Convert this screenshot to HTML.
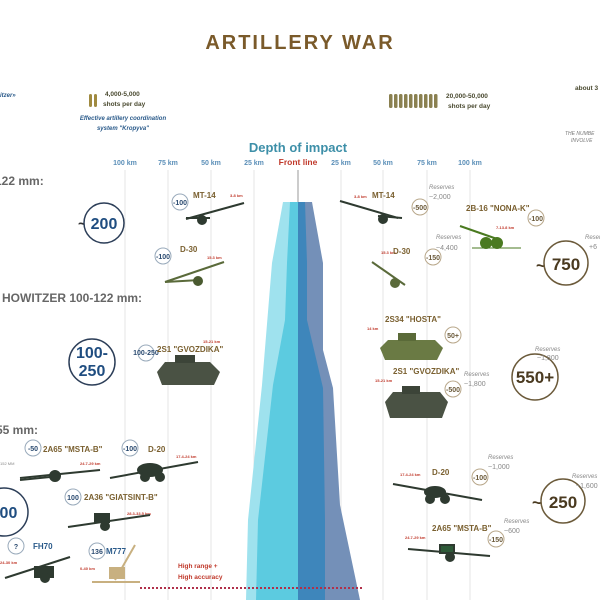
<!DOCTYPE html>
<html><head><meta charset="utf-8"><style>
body{margin:0;background:#fff;}
svg{display:block;font-family:"Liberation Sans",sans-serif;}
.km{font-size:7px;fill:#5b8fb8;font-weight:bold;}
.lbl{font-size:8px;fill:#7a6030;font-weight:bold;}
.rng{font-size:4px;fill:#c0392b;font-weight:bold;}
.res{font-size:6px;fill:#888;font-style:italic;}
.resv{font-size:7px;fill:#888;}
.sc{fill:#fff;stroke:#9ab;stroke-width:1;}
.sct{font-size:7px;fill:#2a4a70;font-weight:bold;text-anchor:middle;}
.bc{fill:#fff;stroke:#2c3e58;stroke-width:1.5;}
.bct{font-size:16px;fill:#1f4d80;font-weight:bold;text-anchor:middle;}
.rc{fill:#fff;stroke:#6b5a3a;stroke-width:1.5;}
.rct{font-size:17px;fill:#4a3a20;font-weight:bold;text-anchor:middle;}
.rsc{fill:#fff;stroke:#b8a78a;stroke-width:1;}
.rsct{font-size:7px;fill:#6b5a3a;font-weight:bold;text-anchor:middle;}
.hd{font-size:12px;fill:#666;font-weight:bold;}
.gun{stroke:#2e3a30;fill:#2e3a30;}
</style></head><body>
<svg width="600" height="600" viewBox="0 0 600 600">
<text x="300" y="49" text-anchor="middle" font-size="20" font-weight="bold" fill="#7a5a2a" letter-spacing="2">ARTILLERY WAR</text>
<text x="0" y="97" font-size="6" fill="#2a5a8a" font-weight="bold" font-style="italic">itzer»</text>
<g fill="#a08a40"><rect x="89" y="94" width="3" height="13" rx="1.5"/><rect x="94" y="94" width="3" height="13" rx="1.5"/></g>
<text x="105" y="96" font-size="6.5" fill="#4a4a30" font-weight="bold">4,000-5,000</text>
<text x="103" y="106" font-size="6.5" fill="#4a4a30" font-weight="bold">shots per day</text>
<text x="123" y="120" font-size="6" fill="#2a5a8a" font-weight="bold" font-style="italic" text-anchor="middle">Effective artillery coordination</text>
<text x="123" y="130" font-size="6" fill="#2a5a8a" font-weight="bold" font-style="italic" text-anchor="middle">system "Kropyva"</text>
<g fill="#8a8050">
<rect x="389" y="94" width="3.5" height="14" rx="1.5"/><rect x="394" y="94" width="3.5" height="14" rx="1.5"/><rect x="399" y="94" width="3.5" height="14" rx="1.5"/><rect x="404" y="94" width="3.5" height="14" rx="1.5"/><rect x="409" y="94" width="3.5" height="14" rx="1.5"/><rect x="414" y="94" width="3.5" height="14" rx="1.5"/><rect x="419" y="94" width="3.5" height="14" rx="1.5"/><rect x="424" y="94" width="3.5" height="14" rx="1.5"/><rect x="429" y="94" width="3.5" height="14" rx="1.5"/><rect x="434" y="94" width="3.5" height="14" rx="1.5"/></g>
<text x="446" y="98" font-size="6.5" fill="#4a4a30" font-weight="bold">20,000-50,000</text>
<text x="448" y="108" font-size="6.5" fill="#4a4a30" font-weight="bold">shots per day</text>
<text x="575" y="90" font-size="6.5" fill="#4a4a30" font-weight="bold">about 3</text>
<text x="565" y="135" font-size="5" fill="#777" font-style="italic">THE NUMBE</text>
<text x="571" y="142" font-size="5" fill="#777" font-style="italic">INVOLVE</text>

<text x="298" y="152" text-anchor="middle" font-size="13" font-weight="bold" fill="#3d8fa8">Depth of impact</text>
<text x="298" y="165" text-anchor="middle" font-size="8.5" font-weight="bold" fill="#c0392b">Front line</text>
<g class="km" text-anchor="middle">
<text x="125" y="165">100 km</text><text x="168" y="165">75 km</text><text x="211" y="165">50 km</text><text x="254" y="165">25 km</text>
<text x="341" y="165">25 km</text><text x="383" y="165">50 km</text><text x="427" y="165">75 km</text><text x="470" y="165">100 km</text></g>
<g stroke="#e4e4e4" stroke-width="1">
<line x1="125" y1="170" x2="125" y2="600"/><line x1="168" y1="170" x2="168" y2="600"/><line x1="211" y1="170" x2="211" y2="600"/><line x1="254" y1="170" x2="254" y2="600"/>
<line x1="341" y1="170" x2="341" y2="600"/><line x1="383" y1="170" x2="383" y2="600"/><line x1="427" y1="170" x2="427" y2="600"/><line x1="470" y1="170" x2="470" y2="600"/></g>
<line x1="298" y1="170" x2="298" y2="600" stroke="#999" stroke-width="1"/>

<!-- impact shape -->
<polygon points="283,202 298,202 298,600 246,600 248,520 262,385 272,263" fill="#9fe2ee"/>
<polygon points="290,202 298,202 298,600 256,600 258,520 273,385 285,320 287,263" fill="#5ccbe0"/>
<polygon points="298,202 312,202 323,263 323,350 333,388 340,505 360,600 298,600" fill="#7490b8"/>
<polygon points="298,202 305,202 307,263 307,320 323,388 325,520 325,600 298,600" fill="#3e86bb"/>
<line x1="140" y1="588" x2="362" y2="588" stroke="#b0304a" stroke-width="2" stroke-dasharray="2,2"/>
<text x="178" y="568" font-size="6.5" font-weight="bold" fill="#c0392b">High range +</text>
<text x="178" y="579" font-size="6.5" font-weight="bold" fill="#c0392b">High accuracy</text>

<text x="-5" y="185" class="hd">122 mm:</text>
<text x="2" y="302" class="hd">HOWITZER 100-122 mm:</text>
<text x="-4" y="434" class="hd">55 mm:</text>
<text x="0" y="465" font-size="4" fill="#888">152 MM</text>

<!-- left big circles -->
<text x="78" y="229" font-size="16" fill="#333" font-weight="bold">~</text>
<circle cx="104" cy="223" r="20" class="bc"/><text x="104" y="229" class="bct">200</text>
<circle cx="92" cy="362" r="23" class="bc"/><text x="92" y="358" class="bct" font-size="14">100-</text><text x="92" y="376" class="bct" font-size="14">250</text>
<circle cx="4" cy="512" r="24" class="bc"/><text x="4" y="518" class="bct">400</text>

<!-- left small circles -->
<circle cx="180" cy="202" r="8" class="sc"/><text x="180" y="205" class="sct">-100</text>
<text x="193" y="198" class="lbl">MT-14</text><text x="230" y="197" class="rng">3-8 km</text>
<circle cx="163" cy="256" r="8" class="sc"/><text x="163" y="259" class="sct">-100</text>
<text x="180" y="252" class="lbl">D-30</text><text x="207" y="259" class="rng">15.3 km</text>
<circle cx="146" cy="353" r="8" class="sc"/><text x="146" y="355" class="sct" font-size="4">100-250</text>
<text x="157" y="352" class="lbl">2S1 "GVOZDIKA"</text><text x="203" y="343" class="rng">15-21 km</text>
<circle cx="33" cy="448" r="8" class="sc"/><text x="33" y="451" class="sct">-50</text>
<text x="43" y="452" class="lbl">2A65 "MSTA-B"</text><text x="80" y="465" class="rng">24.7-29 km</text>
<circle cx="130" cy="448" r="8" class="sc"/><text x="130" y="451" class="sct">-100</text>
<text x="148" y="452" class="lbl">D-20</text><text x="176" y="458" class="rng">17.4-24 km</text>
<circle cx="73" cy="497" r="8" class="sc"/><text x="73" y="500" class="sct">100</text>
<text x="84" y="500" class="lbl">2A36 "GIATSINT-B"</text><text x="127" y="515" class="rng">28.3-33.5 km</text>
<circle cx="16" cy="546" r="8" class="sc"/><text x="16" y="549" class="sct">?</text>
<text x="33" y="549" class="lbl" fill="#2a5a8a" style="fill:#2a5a8a">FH70</text><text x="0" y="564" class="rng">24-30 km</text>
<circle cx="97" cy="551" r="8" class="sc"/><text x="97" y="554" class="sct">136</text>
<text x="106" y="554" class="lbl" style="fill:#2a5a8a">M777</text><text x="80" y="570" class="rng">0-40 km</text>

<!-- left guns -->
<g class="gun" stroke-width="2">
<line x1="186" y1="219" x2="244" y2="203"/><line x1="186" y1="218" x2="210" y2="218"/><circle cx="202" cy="220" r="4"/>
<line x1="165" y1="282" x2="224" y2="262" stroke="#5a6a3a"/><line x1="165" y1="282" x2="200" y2="280" stroke="#5a6a3a"/><circle cx="198" cy="281" r="4" fill="#4a5a30" stroke="#4a5a30"/>
<line x1="20" y1="478" x2="100" y2="470"/><line x1="20" y1="480" x2="60" y2="476"/><circle cx="55" cy="476" r="5"/>
<line x1="110" y1="478" x2="198" y2="462"/><ellipse cx="150" cy="470" rx="12" ry="6"/><circle cx="145" cy="477" r="4"/><circle cx="160" cy="477" r="4"/>
<line x1="68" y1="527" x2="150" y2="515"/><rect x="95" y="514" width="14" height="8"/><circle cx="105" cy="526" r="4"/>
<line x1="5" y1="578" x2="70" y2="557"/><rect x="35" y="567" width="18" height="10"/><circle cx="45" cy="578" r="4"/>
</g>
<g stroke="#c8b080" stroke-width="2" fill="#c8b080"><line x1="135" y1="545" x2="115" y2="580"/><line x1="92" y1="582" x2="140" y2="582"/><rect x="110" y="568" width="14" height="10"/></g>
<!-- left tank -->
<path d="M157,372 L165,362 L210,362 L220,372 L214,385 L162,385 Z" fill="#4a5244"/><rect x="175" y="355" width="20" height="8" fill="#3c4438"/>

<!-- right side -->
<text x="354" y="198" class="rng">3-8 km</text><text x="372" y="198" class="lbl">MT-14</text>
<g class="gun" stroke-width="2"><line x1="340" y1="201" x2="398" y2="218"/><line x1="378" y1="216" x2="402" y2="218"/><circle cx="383" cy="219" r="4"/></g>
<circle cx="420" cy="207" r="8" class="rsc"/><text x="420" y="210" class="rsct">-500</text>
<text x="429" y="189" class="res">Reserves</text><text x="429" y="199" class="resv">~2,000</text>
<text x="466" y="211" class="lbl">2B-16 "NONA-K"</text>
<circle cx="536" cy="218" r="8" class="rsc"/><text x="536" y="221" class="rsct">-100</text>
<text x="496" y="229" class="rng">7-13.8 km</text>
<g stroke="#4a7a20" fill="#4a7a20" stroke-width="2"><line x1="460" y1="226" x2="500" y2="240"/><circle cx="486" cy="243" r="5"/><circle cx="497" cy="243" r="5"/><line x1="472" y1="248" x2="521" y2="248" stroke-width="1"/></g>
<text x="436" y="239" class="res">Reserves</text><text x="436" y="250" class="resv">~4,400</text>
<text x="381" y="254" class="rng">15.3 km</text><text x="393" y="254" class="lbl">D-30</text>
<circle cx="433" cy="257" r="8" class="rsc"/><text x="433" y="260" class="rsct">-150</text>
<g stroke="#5a6a3a" fill="#5a6a3a" stroke-width="2"><line x1="372" y1="262" x2="405" y2="285"/><circle cx="395" cy="283" r="4"/></g>
<text x="541" y="271" class="rct" font-size="18">~</text>
<circle cx="566" cy="263" r="22" class="rc"/><text x="566" y="270" class="rct" font-size="18">750</text>
<text x="585" y="239" class="res">Reserves</text><text x="589" y="249" class="resv">+6</text>

<text x="385" y="322" class="lbl">2S34 "HOSTA"</text><text x="367" y="330" class="rng">14 km</text>
<circle cx="453" cy="335" r="8" class="rsc"/><text x="453" y="338" class="rsct">50+</text>
<path d="M380,348 L388,340 L435,340 L443,348 L437,360 L385,360 Z" fill="#6a7a44"/><rect x="398" y="333" width="18" height="8" fill="#5a6a38"/>
<text x="393" y="374" class="lbl">2S1 "GVOZDIKA"</text><text x="375" y="382" class="rng">15-21 km</text>
<circle cx="453" cy="389" r="8" class="rsc"/><text x="453" y="392" class="rsct">-500</text>
<text x="464" y="376" class="res">Reserves</text><text x="464" y="386" class="resv">~1,800</text>
<path d="M385,402 L393,392 L440,392 L448,402 L442,418 L390,418 Z" fill="#4a5244"/><rect x="402" y="386" width="18" height="8" fill="#3c4438"/>
<circle cx="535" cy="377" r="23" class="rc"/><text x="535" y="383" class="rct">550+</text>
<text x="535" y="351" class="res" font-size="7">Reserves</text><text x="537" y="360" class="resv">~1,800</text>

<text x="400" y="476" class="rng">17.4-24 km</text><text x="432" y="475" class="lbl">D-20</text>
<circle cx="480" cy="477" r="8" class="rsc"/><text x="480" y="480" class="rsct">-100</text>
<text x="488" y="459" class="res">Reserves</text><text x="488" y="469" class="resv">~1,000</text>
<g class="gun" stroke-width="2"><line x1="393" y1="484" x2="482" y2="500"/><ellipse cx="435" cy="492" rx="10" ry="5"/><circle cx="430" cy="499" r="4"/><circle cx="445" cy="499" r="4"/></g>
<text x="537" y="508" class="rct" font-size="18">~</text>
<circle cx="563" cy="501" r="22" class="rc"/><text x="563" y="508" class="rct" font-size="18">250</text>
<text x="572" y="478" class="res" font-size="7">Reserves</text><text x="576" y="488" class="resv">~1,600</text>
<text x="432" y="531" class="lbl">2A65 "MSTA-B"</text><text x="405" y="539" class="rng">24.7-29 km</text>
<circle cx="496" cy="539" r="8" class="rsc"/><text x="496" y="542" class="rsct">-150</text>
<text x="504" y="523" class="res">Reserves</text><text x="504" y="533" class="resv">~600</text>
<g class="gun" stroke-width="2"><line x1="408" y1="549" x2="490" y2="556"/><rect x="440" y="545" width="14" height="8" fill="#2e5a38"/><circle cx="450" cy="557" r="4"/></g>
</svg>
</body></html>
